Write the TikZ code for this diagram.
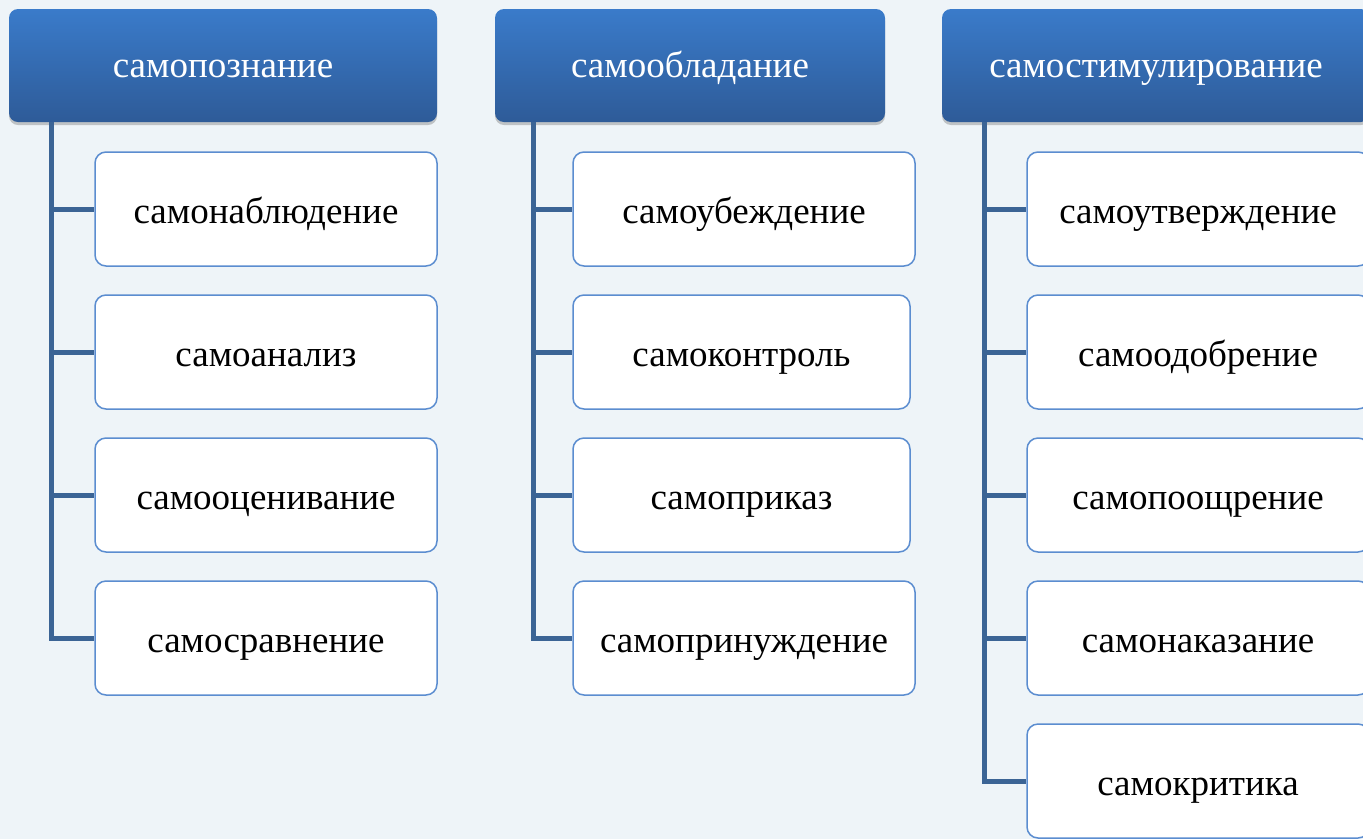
\documentclass[tikz,border=0pt]{standalone}
\usepackage{fontspec}
\setmainfont{Liberation Serif}
\usetikzlibrary{shadows,positioning}
\definecolor{bgc}{HTML}{EEF4F8}
\definecolor{htop}{HTML}{3A7BCA}
\definecolor{hbot}{HTML}{2E5B98}
\definecolor{cbord}{HTML}{5B8DD0}
\definecolor{linec}{HTML}{3B6495}
\tikzset{
  hdr/.style={rectangle, rounded corners=9pt, top color=htop, bottom color=hbot,
    text=white, font=\fontsize{37}{42}\selectfont, inner sep=0pt,
    text height=23pt, text depth=0pt,
    drop shadow={shadow xshift=0pt, shadow yshift=-3pt, opacity=0.35, fill=black!60}},
  child/.style={rectangle, rounded corners=11pt, draw=cbord, line width=1.5pt, fill=white,
    text=black, font=\fontsize{37}{42}\selectfont, inner sep=0pt,
    text height=28pt, text depth=0pt},
  conn/.style={draw=linec, line width=5pt},
}
\begin{document}
\begin{tikzpicture}[x=1pt,y=-1pt]
\fill[bgc] (0,0) rectangle (1363,839);
\useasboundingbox (0,0) rectangle (1363,839);
% headers
\node[hdr, minimum width=428pt, minimum height=113pt] (h1) at (223,65.5) {самопознание};
\node[hdr, minimum width=390pt, minimum height=113pt] (h2) at (690,65.5) {самообладание};
\node[hdr, minimum width=428pt, minimum height=113pt] (h3) at (1156,65.5) {самостимулирование};
% column 1 children
\node[child, minimum width=342pt, minimum height=114pt] (a1) at (266,209) {самонаблюдение};
\node[child, minimum width=342pt, minimum height=114pt] (a2) at (266,352) {самоанализ};
\node[child, minimum width=342pt, minimum height=114pt] (a3) at (266,495) {самооценивание};
\node[child, minimum width=342pt, minimum height=114pt] (a4) at (266,638) {самосравнение};
% column 2 children
\node[child, minimum width=342pt, minimum height=114pt] (b1) at (744,209) {самоубеждение};
\node[child, minimum width=337pt, minimum height=114pt] (b2) at (741.5,352) {самоконтроль};
\node[child, minimum width=337pt, minimum height=114pt] (b3) at (741.5,495) {самоприказ};
\node[child, minimum width=342pt, minimum height=114pt] (b4) at (744,638) {самопринуждение};
% column 3 children
\node[child, minimum width=342pt, minimum height=114pt] (c1) at (1198,209) {самоутверждение};
\node[child, minimum width=342pt, minimum height=114pt] (c2) at (1198,352) {самоодобрение};
\node[child, minimum width=342pt, minimum height=114pt] (c3) at (1198,495) {самопоощрение};
\node[child, minimum width=342pt, minimum height=114pt] (c4) at (1198,638) {самонаказание};
\node[child, minimum width=342pt, minimum height=114pt] (c5) at (1198,781) {самокритика};
% connectors
\coordinate (t1) at (51,0);
\coordinate (t2) at (533,0);
\coordinate (t3) at (984,0);
\draw[conn] (h1.south -| t1) |- (a4.west);
\draw[conn] (a1.west -| t1) -- (a1.west);
\draw[conn] (a2.west -| t1) -- (a2.west);
\draw[conn] (a3.west -| t1) -- (a3.west);
\draw[conn] (h2.south -| t2) |- (b4.west);
\draw[conn] (b1.west -| t2) -- (b1.west);
\draw[conn] (b2.west -| t2) -- (b2.west);
\draw[conn] (b3.west -| t2) -- (b3.west);
\draw[conn] (h3.south -| t3) |- (c5.west);
\draw[conn] (c1.west -| t3) -- (c1.west);
\draw[conn] (c2.west -| t3) -- (c2.west);
\draw[conn] (c3.west -| t3) -- (c3.west);
\draw[conn] (c4.west -| t3) -- (c4.west);
\end{tikzpicture}
\end{document}
